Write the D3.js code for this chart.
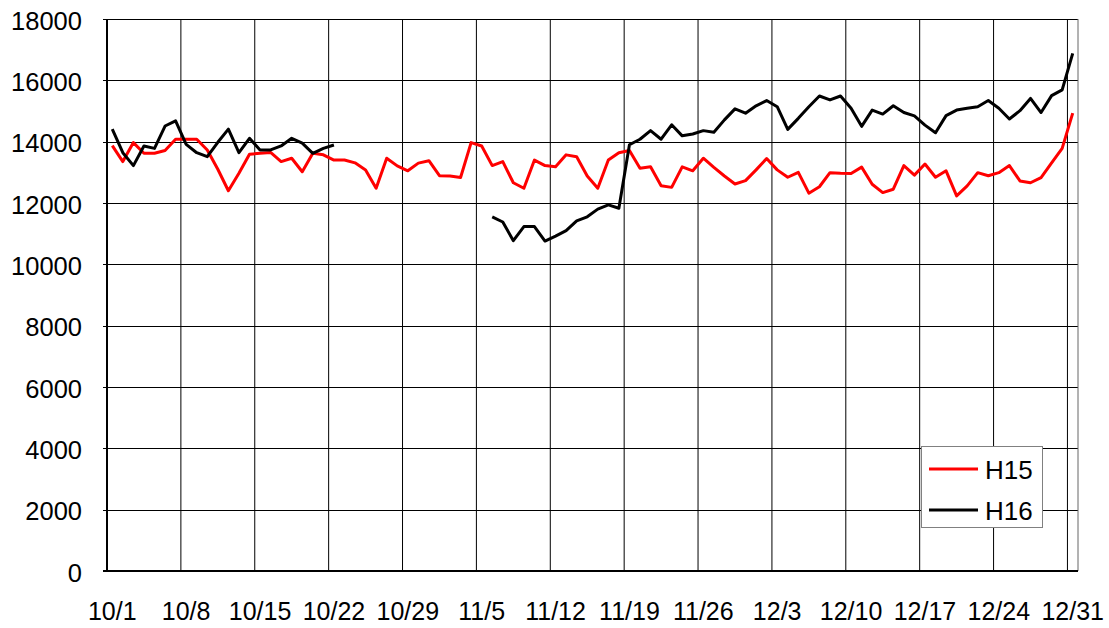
<!DOCTYPE html>
<html>
<head>
<meta charset="utf-8">
<script src="https://cdn.jsdelivr.net/npm/d3@7"></script>
<style>
  html, body { margin: 0; padding: 0; background: #fff; }
  svg { display: block; }
  text { font-family: "Liberation Sans", Arial, sans-serif; fill: #000; }
</style>
</head>
<body>
<svg id="chart" width="1109" height="628"></svg>
<script>
// ---- data ----
const monthDays = [["10", 31], ["11", 30], ["12", 31]];
const categories = [];
monthDays.forEach(([m, n]) => { for (let d = 1; d <= n; d++) categories.push(m + "/" + d); });

const tickLabels = ["10/1","10/8","10/15","10/22","10/29","11/5","11/12","11/19","11/26","12/3","12/10","12/17","12/24","12/31"];
const yTicks = [0,2000,4000,6000,8000,10000,12000,14000,16000,18000];

const seriesNames = ["H15", "H16"];

const h15 = [
  13870,13350,13970,13620,13620,13710,14080,14080,14080,13730,
  13100,12400,12970,13590,13620,13650,13350,13460,13020,13620,
  13570,13400,13400,13310,13080,12480,13460,13210,13050,13300,
  13380,12890,12880,12830,13970,13860,13220,13350,12660,12480,
  13400,13220,13180,13570,13510,12880,12480,13400,13640,13710,
  13130,13180,12560,12510,13180,13050,13460,13160,12880,12620,
  12730,13080,13450,13080,12840,13000,12320,12530,12990,12970,
  12960,13170,12610,12340,12450,13220,12910,13270,12840,13050,
  12230,12560,12990,12890,12990,13220,12720,12660,12830,13310,
  13780,14930
];

const h16 = [
  14410,13640,13220,13860,13780,14510,14680,13910,13640,13510,
  13980,14410,13640,14110,13730,13730,13860,14110,13950,13620,
  13780,13890,null,null,null,null,null,null,null,null,
  null,null,null,null,null,null,11550,11380,10770,11230,
  11230,10760,10920,11100,11420,11550,11800,11940,11830,13900,
  14080,14360,14080,14550,14190,14250,14360,14310,14710,15070,
  14930,15170,15340,15140,14400,14760,15140,15490,15360,15490,
  15090,14500,15030,14900,15170,14950,14840,14540,14290,14850,
  15030,15090,15140,15340,15090,14740,15010,15410,14950,15500,
  15690,16880
];

const colors = ["#ff0000", "#000000"];

// ---- layout ----
const svg = d3.select("#chart");
const pLeft = 107, pRight = 1078, pTop = 19, pBottom = 571;

const x = d3.scaleBand().domain(categories).range([pLeft, pRight]).padding(0);
const y = d3.scaleLinear().domain([0, 18000]).range([pBottom, pTop]);
const cx = d => x(d) + x.bandwidth() / 2;

// horizontal gridlines
svg.append("g")
  .selectAll("line").data(yTicks.filter(v => v > 0)).join("line")
  .attr("x1", pLeft - 4).attr("x2", pRight)
  .attr("y1", d => Math.round(y(d)) + 0.5).attr("y2", d => Math.round(y(d)) + 0.5)
  .attr("stroke", "#000").attr("stroke-width", 1);

// vertical gridlines every 7 categories
const vIdx = d3.range(7, categories.length, 7);
svg.append("g")
  .selectAll("line").data(vIdx).join("line")
  .attr("x1", i => x(categories[i])).attr("x2", i => x(categories[i]))
  .attr("y1", pTop).attr("y2", pBottom)
  .attr("stroke", "#000").attr("stroke-width", 1);

// right border
svg.append("line")
  .attr("x1", pRight).attr("x2", pRight).attr("y1", pTop).attr("y2", pBottom)
  .attr("stroke", "#666").attr("stroke-width", 1);

// y axis line
svg.append("line")
  .attr("x1", pLeft).attr("x2", pLeft).attr("y1", pTop).attr("y2", pBottom)
  .attr("stroke", "#000").attr("stroke-width", 2);
// x axis line
svg.append("line")
  .attr("x1", pLeft - 4).attr("x2", pRight).attr("y1", pBottom).attr("y2", pBottom)
  .attr("stroke", "#000").attr("stroke-width", 2);

// y labels
svg.append("g")
  .selectAll("text").data(yTicks).join("text")
  .attr("x", 82).attr("y", d => y(d) + 1.5)
  .attr("dy", "0.36em")
  .attr("text-anchor", "end")
  .style("font-size", "25.5px")
  .text(d => d);

// x labels
svg.append("g")
  .selectAll("text").data(tickLabels).join("text")
  .attr("x", d => cx(d)).attr("y", 620)
  .attr("text-anchor", "middle")
  .style("font-size", "25px")
  .text(d => d);

// lines
const line = d3.line()
  .defined(d => d.v != null)
  .x(d => cx(d.c))
  .y(d => y(d.v));

[h15, h16].forEach((vals, k) => {
  const pts = categories.map((c, i) => ({ c, v: vals[i] }));
  svg.append("path")
    .datum(pts)
    .attr("fill", "none")
    .attr("stroke", colors[k])
    .attr("stroke-width", 3)
    .attr("stroke-linejoin", "round")
    .attr("d", line);
});

// legend
const lg = svg.append("g");
lg.append("rect")
  .attr("x", 921.5).attr("y", 446.5).attr("width", 121).attr("height", 81)
  .attr("fill", "#fff").attr("stroke", "#808080").attr("stroke-width", 1);
seriesNames.forEach((name, k) => {
  const yy = 469 + k * 41;
  lg.append("line")
    .attr("x1", 929).attr("x2", 978).attr("y1", yy).attr("y2", yy)
    .attr("stroke", colors[k]).attr("stroke-width", 3);
  lg.append("text")
    .attr("x", 985).attr("y", yy + 1).attr("dy", "0.36em")
    .style("font-size", "26px")
    .text(name);
});
</script>
</body>
</html>
